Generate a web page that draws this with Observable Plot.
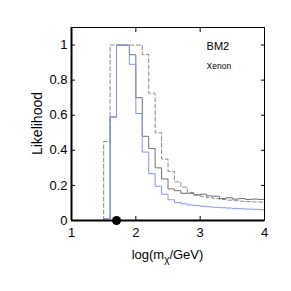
<!DOCTYPE html>
<html><head><meta charset="utf-8">
<script src="https://cdn.jsdelivr.net/npm/d3@7"></script>
<script src="https://cdn.jsdelivr.net/npm/@observablehq/plot@0.6"></script>
<style>body{margin:0;background:#fff} svg{display:block}</style>
</head><body><div id="chart"></div>
<script>
// Bin left edges (log10 of mass / GeV); last entry closes the final bin
const binEdges = [1.4,1.5,1.6,1.7,1.8,1.9,2.0,2.1,2.2,2.3,2.4,2.5,2.6,2.7,2.8,2.9,3.0,3.1,3.2,3.3,3.4,3.5,3.6,3.7,3.8,3.9,4.0];
const blueLikelihood = [0,0.01,0.59,1.0,1.0,0.89,0.61,0.39,0.267,0.195,0.15,0.118,0.103,0.095,0.089,0.085,0.081,0.078,0.075,0.073,0.071,0.069,0.067,0.065,0.064,0.062];
const greyLikelihood = [0,0.01,0.59,1.0,1.0,0.945,0.70,0.48,0.41,0.30,0.237,0.18,0.17,0.155,0.155,0.145,0.15,0.14,0.138,0.125,0.13,0.122,0.125,0.12,0.122,0.12];
const dashedLikelihood = [0,0.45,1.0,1.0,1.0,1.0,1.0,0.947,0.726,0.50,0.35,0.28,0.22,0.19,0.16,0.148,0.138,0.13,0.125,0.12,0.116,0.113,0.11,0.108,0.106,0.105];
const bestFit = [1.7];
const xTicks = [1,2,3,4];
const xTickLabels = ["1","2","3","4"];
const yTicks = [0,0.2,0.4,0.6,0.8,1];
const yTickLabels = ["0","0.2","0.4","0.6","0.8","1"];
const annotations = ["BM2","Xenon"];
const yLabel = "Likelihood";
const xLabelParts = ["log(m","χ","/GeV)"];

function steps(vals){
  return binEdges.map((x,i)=>({x, y: vals[Math.min(i, vals.length-1)]}));
}
const lineOpts = {x:"x", y:"y", curve:"step-after", strokeWidth:1, clip:true};
const noText = () => "";

const plot = Plot.plot({
  width: 291, height: 291,
  marginLeft: 71, marginRight: 27, marginTop: 27, marginBottom: 71,
  x: {domain:[1,4]},
  y: {domain:[0,1.1]},
  style: {fontFamily:"'Liberation Sans', Arial, sans-serif", fontSize:"13px", background:"white", color:"black", overflow:"visible"},
  marks: [
    Plot.line(steps(dashedLikelihood), {...lineOpts, stroke:"#8a8a8a", strokeDasharray:"4,2.5"}),
    Plot.line(steps(greyLikelihood), {...lineOpts, stroke:"#707070"}),
    Plot.line(steps(blueLikelihood), {...lineOpts, stroke:"#8494f2"}),
    Plot.frame({stroke:"black", strokeWidth:1}),
    Plot.ruleX([1], {stroke:"black", strokeWidth:2}),
    Plot.ruleY([0], {stroke:"black", strokeWidth:2}),
    Plot.axisY(yTicks, {anchor:"left", tickSize:4, dx:4, tickFormat:noText, label:null}),
    Plot.axisY(yTicks, {anchor:"right", tickSize:4, dx:-4, tickFormat:noText, label:null}),
    Plot.axisX(xTicks, {anchor:"bottom", tickSize:4, dy:-4, tickFormat:noText, label:null}),
    Plot.axisX(xTicks, {anchor:"top", tickSize:4, dy:4, tickFormat:noText, label:null}),
    Plot.axisY(yTicks, {anchor:"left", tickSize:0, tickPadding:4, tickFormat:d=>yTickLabels[yTicks.indexOf(d)], label:null, fontSize:13}),
    Plot.axisX(xTicks, {anchor:"bottom", tickSize:0, tickPadding:7, tickFormat:d=>xTickLabels[xTicks.indexOf(d)], label:null, fontSize:13}),
    Plot.dot(bestFit, {x:d=>d, y:0, r:4.5, fill:"black", stroke:"none"}),
    Plot.text([annotations[0]], {x:3.1, y:0.992, text:d=>d, textAnchor:"start", fontSize:11}),
    Plot.text([annotations[1]], {x:3.1, y:0.88, text:d=>d, textAnchor:"start", fontSize:8.5})
  ]
});

const svg = d3.select(plot);
const xs = plot.scale("x"), ys = plot.scale("y");
const xl = svg.append("text")
  .attr("x", (xs.apply(1)+xs.apply(4))/2)
  .attr("y", 259)
  .attr("text-anchor","middle")
  .attr("font-size",13)
  .attr("fill","black");
xl.append("tspan").text(xLabelParts[0]);
xl.append("tspan").attr("dy",4).attr("font-size",10).text(xLabelParts[1]);
xl.append("tspan").attr("dy",-4).text(xLabelParts[2]);
svg.append("text")
  .attr("transform", `translate(42,${(ys.apply(0)+ys.apply(1.1))/2}) rotate(-90)`)
  .attr("text-anchor","middle")
  .attr("font-size",14)
  .attr("fill","black")
  .text(yLabel);

document.getElementById("chart").appendChild(plot);
</script>
</body></html>
